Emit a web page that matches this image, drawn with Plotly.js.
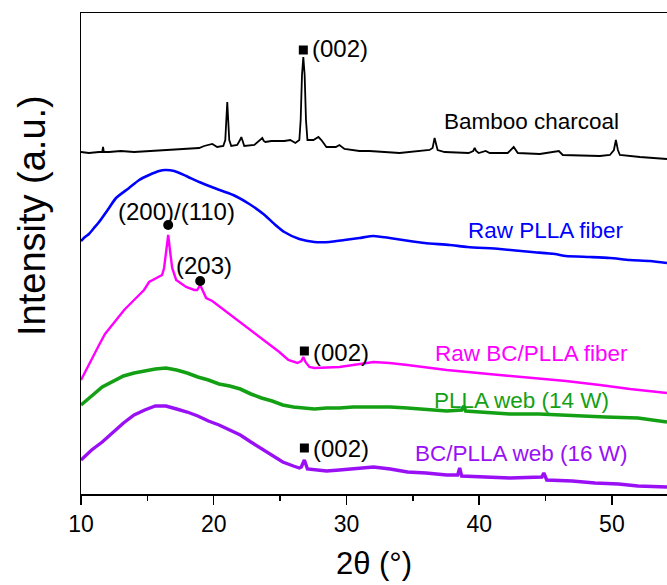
<!DOCTYPE html>
<html>
<head>
<meta charset="utf-8">
<script src="https://cdn.plot.ly/plotly-3.0.1.min.js"></script>
<style>html,body{margin:0;padding:0;background:#fff;}#chart{width:667px;height:585px;}</style>
</head>
<body>
<div id="chart"></div>
<script>
// ---- Data (2θ in degrees, intensity in a.u., stacked offsets) ----
const bcX = [10.00,10.60,11.36,11.60,11.66,11.72,12.11,13.00,14.00,15.13,
             16.50,18.15,18.90,19.28,19.89,20.26,20.72,20.87,20.95,21.02,
             21.09,21.17,21.32,21.77,21.98,22.08,22.18,22.30,23.06,23.55,
             23.66,23.77,23.89,24.34,25.32,25.77,26.15,26.45,26.55,26.65,
             26.75,26.85,26.95,27.06,27.51,27.89,28.11,28.49,29.20,29.47,
             29.70,29.85,30.98,31.74,34.00,35.51,36.26,36.49,36.64,36.79,
             36.87,37.40,39.20,39.55,39.66,39.77,39.96,40.49,40.79,42.15,
             42.60,42.91,44.57,46.00,46.30,49.09,49.85,50.15,50.30,50.45,
             50.60,52.11,54.15];
const bcY = [342,341,342,342,347,342,342,343,342,343,
             344,345,346,348,350,347,348,354,374,392,
             374,354,348,349,354,357,353,348,349,354,
             356,353,352,353,353,354,351,354,374,419,
             437,419,374,354,354,357,354,347,347,349,
             346,345,343,343,341,343,344,346,356,348,
             344,342,341,343,346,343,341,343,341,341,
             347,341,340,343,339,338,339,344,354,344,
             339,337,335];

const plfX = [10.00,10.30,10.60,10.98,11.36,12.11,12.64,13.62,14.38,15.13,
              15.89,16.34,17.02,17.92,18.91,20.04,21.47,22.68,23.74,24.57,
              25.32,26.45,27.58,28.72,29.85,30.98,32.04,33.25,34.75,35.89,
              37.77,39.13,41.55,43.96,45.70,46.53,48.34,49.85,51.36,52.87,
              54.15];
const plfY = [253,257,260,266,272,286,296,306,314,319,
              323,324,323,318,312,306,299,290,280,270,
              262,255,252,252,254,256,258,256,253,251,
              249,247,245,242,240,238,237,236,234,233,
              231];

const bcfX = [10.00,10.30,10.60,10.98,11.36,11.81,12.49,13.25,14.15,14.75,
              15.13,15.66,16.11,16.26,16.42,16.57,16.72,16.87,17.17,17.92,
              18.53,18.75,18.98,19.21,19.43,19.89,20.79,22.08,23.06,24.04,
              24.94,25.62,26.30,26.60,26.75,26.91,27.21,27.58,29.47,32.04,
              33.25,34.60,37.55,40.72,43.96,46.53,49.09,51.36,54.15];
const bcfY = [114,122,130,140,149,160,171,184,196,204,
              212,216,219,226,242,259,242,226,214,207,
              204,204,209,202,196,193,184,171,161,151,
              142,134,131,133,137,132,127,126,127,132,
              131,129,124,120,116,113,109,105,101];

const webX = [10.0,10.4,10.8,11.6,12.4,13.2,14.0,14.8,15.6,16.4,
              17.2,18.0,18.8,19.6,20.4,21.2,22.0,22.8,23.6,24.4,
              25.2,26.0,27.0,27.58,28.5,29.47,30.5,32.04,33.3,34.6,
              36.0,37.55,38.68,38.83,38.98,40.5,42.3,44.5,47.13,49.5,
              51.96,53.24,54.15];
const webY = [89,94,98,107,113,118,121,123,125,126,
              124,121,117,114,110,108,105,100,96,93,
              89,87,86,85,86,86,87,87,87,86,
              85,83,84,88,83,82,80,80,78,77,
              76,74,72];

const bcwX = [10.0,10.4,10.8,11.6,12.4,13.2,14.0,14.8,15.6,16.4,
              17.2,18.0,18.8,19.6,20.4,21.2,22.0,22.8,23.6,24.4,
              25.2,26.0,26.45,26.60,26.83,27.06,27.58,28.5,29.47,30.5,
              32.04,33.3,34.6,36.0,37.55,38.38,38.53,38.68,40.5,42.3,
              44.72,44.87,45.09,47.0,48.72,50.5,51.96,54.15];
const bcwY = [34,39,44,52,62,71,79,84,88,88,
              85,82,78,73,69,64,59,52,45,39,
              32,28,26,27,34,25,24,23,24,25,
              27,25,22,21,19,19,26,18,17,16,
              17,21,14,13,11,10,8,7];

// Peak markers (■ = carbon (002), ● = PLLA α crystal)
const squareX = [26.75, 26.83, 26.83];
const squareY = [444, 143, 46];
const dotX = [16.57, 18.98];
const dotY = [269, 213];

const seriesNames = ['Bamboo charcoal','Raw PLLA fiber','Raw BC/PLLA fiber','PLLA web (14 W)','BC/PLLA web (16 W)'];
const seriesColors = ['#000000','#0000FF','#FF00FF','#14A014','#9A10F5'];

const FONT = 'Liberation Sans, Arial, Helvetica, sans-serif';

const traces = [
  {x: bcX, y: bcY, mode: 'lines', line: {color: seriesColors[0], width: 1.8}},
  {x: plfX, y: plfY, mode: 'lines', line: {color: seriesColors[1], width: 2.6, shape: 'spline', smoothing: 0.6}},
  {x: bcfX, y: bcfY, mode: 'lines', line: {color: seriesColors[2], width: 2.4}},
  {x: webX, y: webY, mode: 'lines', line: {color: seriesColors[3], width: 3.6}},
  {x: bcwX, y: bcwY, mode: 'lines', line: {color: seriesColors[4], width: 3.4}},
  {x: squareX, y: squareY, mode: 'markers', marker: {symbol: 'square', size: 9, color: '#000'}},
  {x: dotX, y: dotY, mode: 'markers', marker: {symbol: 'circle', size: 10, color: '#000'}}
];

function lab(text, x, y, color, size, xanchor) {
  return {text: text, x: x, y: y, xref: 'x', yref: 'y', showarrow: false,
          xanchor: xanchor || 'center', yanchor: 'middle',
          font: {family: FONT, size: size, color: color}};
}

const layout = {
  width: 667, height: 585,
  margin: {l: 81, r: 0, t: 13, b: 91},
  paper_bgcolor: '#fff', plot_bgcolor: '#fff',
  showlegend: false,
  font: {family: FONT, color: '#000'},
  xaxis: {
    range: [10, 54.15], showline: true, linecolor: '#000', linewidth: 1.5, mirror: true,
    ticks: 'outside', ticklen: 9, tickwidth: 1.5, tickcolor: '#000',
    tick0: 10, dtick: 10, tickfont: {family: FONT, size: 23, color: '#000'},
    showgrid: false, zeroline: false,
    minor: {ticks: 'outside', ticklen: 5, tickwidth: 1.5, tickcolor: '#000', dtick: 5, tick0: 10, showgrid: false},
    title: {text: '2θ (°)', font: {family: FONT, size: 31, color: '#000'}, standoff: 16}
  },
  yaxis: {
    range: [0, 481], showline: true, linecolor: '#000', linewidth: 1.5,
    showticklabels: false, ticks: '', showgrid: false, zeroline: false
  },
  annotations: [
    {text: 'Intensity (a.u.)', xref: 'paper', yref: 'paper', x: -0.0836, y: 0.578,
     textangle: -90, showarrow: false, xanchor: 'center', yanchor: 'middle',
     font: {family: FONT, size: 38, color: '#000'}},
    lab('(002)', 27.28, 446, '#000', 24, 'left'),
    lab('(002)', 27.36, 142, '#000', 24, 'left'),
    lab('(002)', 27.36, 46, '#000', 24, 'left'),
    lab('(200)/(110)', 17.17, 283, '#000', 24),
    lab('(203)', 19.28, 229, '#000', 24),
    lab(seriesNames[0], 43.96, 373, seriesColors[0], 22.5),
    lab(seriesNames[1], 45.02, 264, seriesColors[1], 22.5),
    lab(seriesNames[2], 43.96, 141, seriesColors[2], 22.5),
    lab(seriesNames[3], 43.2, 94, seriesColors[3], 22.5),
    lab(seriesNames[4], 43.2, 41, seriesColors[4], 22.5)
  ]
};

Plotly.newPlot('chart', traces, layout, {displayModeBar: false, staticPlot: true});
</script>
</body>
</html>
